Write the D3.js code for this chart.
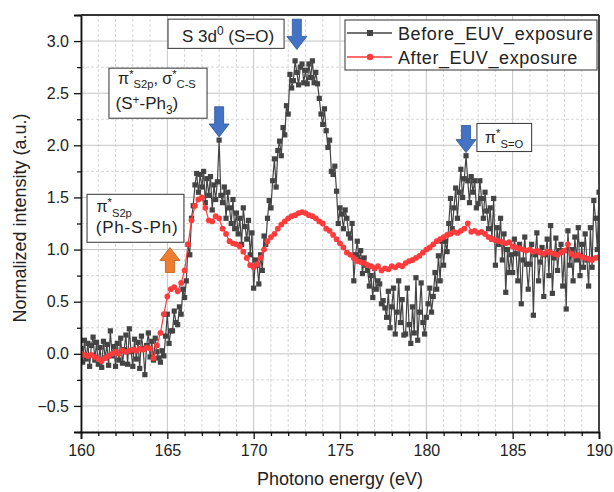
<!DOCTYPE html>
<html>
<head>
<meta charset="utf-8">
<script src="https://cdn.jsdelivr.net/npm/d3@7"></script>
<style>
  body { margin: 0; background: #fff; }
  svg text { font-family: "Liberation Sans", Arial, sans-serif; fill: #222; }
</style>
</head>
<body>
<svg id="chart" width="614" height="492"></svg>
<script>
// Before exposure, one point every 0.1 eV from 160.0 eV
const beforeStart = 160, beforeStep = 0.1;
const beforeValues = [
  0.05, -0.08, 0.13, -0.05, 0.10, -0.12, 0.08, 0.16, -0.06, 0.11,
  -0.10, 0.06, -0.13, 0.12, -0.04, 0.09, -0.11, 0.22, -0.02, 0.07,
  -0.12, 0.10, -0.06, 0.15, -0.09, 0.04, 0.18, -0.10, 0.24, 0.02,
  -0.12, 0.14, -0.05, 0.11, -0.14, 0.17, 0.05, -0.20, 0.08, 0.20,
  -0.03, 0.12, -0.06, 0.15, 0.02, -0.04, -0.08, 0.03, -0.02, 0.17,
  0.38, 0.10, 0.22, 0.22, 0.41, 0.30, 0.28, 0.45, 0.38, 0.62,
  0.54, 0.70, 1.05, 0.95, 1.30, 1.42, 1.62, 1.73, 1.55, 1.72,
  1.60, 1.75, 1.45, 1.68, 1.52, 1.70, 1.38, 1.62, 1.48, 1.65,
  2.05, 1.52, 1.45, 1.60, 1.30, 1.55, 1.40, 1.25, 1.48, 1.20,
  1.35, 1.15, 1.30, 1.05, 1.40, 1.22, 1.10, 1.28, 0.95, 1.16,
  0.63, 0.90, 0.85, 0.67, 0.95, 0.80, 1.13, 1.05, 1.30, 1.47,
  1.40, 1.66, 1.87, 1.60, 1.95, 2.04, 1.90, 2.17, 2.10, 2.38,
  2.30, 2.68, 2.55, 2.62, 2.81, 2.70, 2.58, 2.75, 2.78, 2.60,
  2.72, 2.59, 2.78, 2.65, 2.81, 2.60, 2.70, 2.59, 2.45, 2.30,
  2.20, 2.35, 2.14, 1.98, 2.05, 1.75, 1.72, 1.80, 1.56, 1.25,
  1.40, 1.34, 1.20, 1.38, 1.30, 1.15, 1.11, 1.25, 0.70, 0.95,
  1.08, 0.90, 0.99, 0.77, 0.92, 0.85, 0.80, 0.65, 0.75, 0.54,
  0.82, 0.62, 0.70, 0.67, 0.48, 0.51, 0.44, 0.35, 0.60, 0.25,
  0.45, 0.63, 0.19, 0.40, 0.70, 0.30, 0.52, 0.18, 0.19, 0.63,
  0.28, 0.10, 0.45, 0.20, 0.73, 0.13, 0.40, 0.68, 0.30, 0.19,
  0.35, 0.48, 0.63, 0.40, 0.55, 0.78, 0.62, 0.94, 0.70, 1.08,
  0.85, 1.08, 0.98, 1.25, 1.49, 1.20, 1.40, 1.59, 1.30, 1.55,
  1.77, 1.50, 1.68, 1.90, 1.66, 1.45, 1.70, 1.55, 1.66, 1.40,
  1.44, 1.66, 1.49, 1.30, 1.55, 1.37, 1.20, 1.40, 1.10, 1.49,
  0.85, 1.21, 1.05, 1.30, 0.90, 1.15, 0.59, 1.00, 0.78, 0.95,
  0.78, 1.10, 0.96, 0.70, 1.05, 0.48, 0.90, 1.12, 0.86, 0.62,
  0.86, 1.05, 0.37, 0.95, 1.16, 0.70, 0.88, 1.02, 0.55, 0.95,
  1.10, 0.75, 1.23, 0.58, 0.92, 1.11, 0.80, 0.99, 1.05, 0.65,
  0.99, 0.43, 1.18, 0.85, 1.00, 0.70, 1.12, 0.90, 1.21, 0.75,
  1.05, 0.83, 1.15, 0.90, 0.65, 1.21, 0.83, 1.47, 1.30, 1.00,
  1.55
];

// After exposure, one point every 0.2 eV from 160.0 eV
const afterStart = 160, afterStep = 0.2;
const afterValues = [
  0.00, -0.01, -0.02, -0.01, -0.03,
  -0.05, -0.07, -0.04, -0.02, 0.00,
  0.02, 0.00, 0.03, 0.02, 0.03,
  0.04, 0.03, 0.05, 0.04, 0.06,
  0.05, -0.04, 0.08, 0.20, 0.38,
  0.55, 0.62, 0.64, 0.60, 0.68,
  0.80, 1.05, 1.28, 1.42, 1.48,
  1.50, 1.40, 1.28, 1.27, 1.32,
  1.30, 1.20, 1.15, 1.08, 1.06,
  1.05, 1.03, 0.98, 0.92, 0.85,
  0.83, 0.86, 0.92, 1.00, 1.08,
  1.12, 1.15, 1.20, 1.24, 1.27,
  1.30, 1.32, 1.33, 1.35, 1.36,
  1.35, 1.33, 1.32, 1.30, 1.27,
  1.25, 1.20, 1.18, 1.14, 1.10,
  1.06, 1.02, 0.97, 0.95, 0.92,
  0.89, 0.88, 0.87, 0.85, 0.84,
  0.82, 0.84, 0.80, 0.82, 0.81,
  0.84, 0.83, 0.85, 0.84, 0.87,
  0.89, 0.90, 0.92, 0.94, 0.97,
  1.00, 1.02, 1.05, 1.08, 1.10,
  1.12, 1.14, 1.15, 1.17, 1.16,
  1.18, 1.20, 1.25, 1.17, 1.18,
  1.16, 1.17, 1.15, 1.12, 1.10,
  1.09, 1.08, 1.07, 1.06, 1.07,
  1.03, 1.02, 1.01, 1.00, 0.99,
  1.00, 0.98, 0.99, 0.97, 0.96,
  0.98, 0.97, 0.96, 0.95, 0.97,
  0.99, 1.05, 0.96, 0.94, 0.95,
  0.93, 0.92, 0.91, 0.90, 0.92,
  0.93
];

const seriesNames = ["Before_EUV_exposure", "After_EUV_exposure"];
const xMajorTicks = [160, 165, 170, 175, 180, 185, 190];
const yMajorTicks = [-0.5, 0.0, 0.5, 1.0, 1.5, 2.0, 2.5, 3.0];

const svg = d3.select("#chart");

const x = d3.scaleLinear().domain([160, 190]).range([81, 599]);
const y = d3.scaleLinear().domain([-0.75, 3.25]).range([432, 15]);

const toPoints = (start, step, vals) =>
  vals.map((v, i) => ({ e: +(start + i * step).toFixed(2), v }));

const before = toPoints(beforeStart, beforeStep, beforeValues);
const after = toPoints(afterStart, afterStep, afterValues);

const xMinor = d3.range(160, 191, 1).filter(d => d % 5 !== 0);
const yMinor = d3.range(-0.75, 3.26, 0.25).filter(d => Math.abs(d * 2 - Math.round(d * 2)) > 0.01);

// grid
const grid = svg.append("g");
grid.selectAll(".vmin").data(xMinor).join("line")
  .attr("x1", d => x(d)).attr("x2", d => x(d))
  .attr("y1", y(-0.75)).attr("y2", y(3.25))
  .attr("stroke", "#d6d6d6").attr("stroke-dasharray", "3,2");
grid.selectAll(".hmin").data(yMinor).join("line")
  .attr("x1", x(160)).attr("x2", x(190))
  .attr("y1", d => y(d)).attr("y2", d => y(d))
  .attr("stroke", "#d6d6d6").attr("stroke-dasharray", "3,2");
grid.selectAll(".vmaj").data(xMajorTicks).join("line")
  .attr("x1", d => x(d)).attr("x2", d => x(d))
  .attr("y1", y(-0.75)).attr("y2", y(3.25))
  .attr("stroke", "#c4c4c4");
grid.selectAll(".hmaj").data(yMajorTicks).join("line")
  .attr("x1", x(160)).attr("x2", x(190))
  .attr("y1", d => y(d)).attr("y2", d => y(d))
  .attr("stroke", "#c4c4c4");

// clip
svg.append("clipPath").attr("id", "clip")
  .append("rect").attr("x", 81).attr("y", 15).attr("width", 518).attr("height", 417);

const plot = svg.append("g").attr("clip-path", "url(#clip)");
const line = d3.line().x(d => x(d.e)).y(d => y(d.v));

// before series
plot.append("path").datum(before)
  .attr("fill", "none").attr("stroke", "#444").attr("stroke-width", 1.2)
  .attr("d", line);
plot.append("g").selectAll("rect").data(before).join("rect")
  .attr("x", d => x(d.e) - 2.6).attr("y", d => y(d.v) - 2.6)
  .attr("width", 5.2).attr("height", 5.2)
  .attr("fill", "#444");

// after series
plot.append("path").datum(after)
  .attr("fill", "none").attr("stroke", "#ff3b3b").attr("stroke-width", 1.2)
  .attr("d", line);
plot.append("g").selectAll("circle").data(after).join("circle")
  .attr("cx", d => x(d.e)).attr("cy", d => y(d.v)).attr("r", 2.9)
  .attr("fill", "#ff3b3b");

// axes
svg.append("g").attr("transform", "translate(0,432)")
  .call(d3.axisBottom(x).tickValues(xMajorTicks).tickFormat(d3.format("d")).tickSize(7).tickPadding(6));
svg.append("g").attr("transform", "translate(0,432)")
  .call(d3.axisBottom(x).tickValues(xMinor).tickFormat("").tickSize(4))
  .select(".domain").remove();
svg.append("g").attr("transform", "translate(81,0)")
  .call(d3.axisLeft(y).tickValues(yMajorTicks).tickFormat(d => d3.format(".1f")(d).replace("-", "\u2212")).tickSize(7).tickPadding(5));
svg.append("g").attr("transform", "translate(81,0)")
  .call(d3.axisLeft(y).tickValues(yMinor).tickFormat("").tickSize(4))
  .select(".domain").remove();

svg.selectAll(".tick line").attr("stroke", "#111").attr("stroke-width", 1.3);
svg.selectAll(".domain").attr("stroke", "#111").attr("stroke-width", 1.8);
svg.selectAll(".tick text").style("font-size", "16px").attr("fill", "#222");

// top / right frame
svg.append("line").attr("x1", 81).attr("x2", 599).attr("y1", 15).attr("y2", 15)
  .attr("stroke", "#333").attr("stroke-width", 1.8);
svg.append("line").attr("x1", 599).attr("x2", 599).attr("y1", 15).attr("y2", 432)
  .attr("stroke", "#333").attr("stroke-width", 1.8);

// axis titles
svg.append("text").attr("x", 340).attr("y", 485).attr("text-anchor", "middle")
  .style("font-size", "18px").text("Photono energy (eV)");
svg.append("text").attr("transform", "translate(26,218) rotate(-90)").attr("text-anchor", "middle")
  .style("font-size", "18px").text("Normalized intensity (a.u.)");

// legend
const legend = svg.append("g");
legend.append("rect").attr("x", 345).attr("y", 20).attr("width", 252).attr("height", 50)
  .attr("fill", "#fff").attr("stroke", "#333").attr("stroke-width", 1);
const legRows = [
  { name: seriesNames[0], color: "#444", shape: "square", cy: 33 },
  { name: seriesNames[1], color: "#ff3b3b", shape: "circle", cy: 57 }
];
legRows.forEach(r => {
  legend.append("line").attr("x1", 347).attr("x2", 392).attr("y1", r.cy).attr("y2", r.cy)
    .attr("stroke", r.color).attr("stroke-width", 1.4);
  if (r.shape === "square")
    legend.append("rect").attr("x", 367).attr("y", r.cy - 3).attr("width", 6).attr("height", 6).attr("fill", r.color);
  else
    legend.append("circle").attr("cx", 370).attr("cy", r.cy).attr("r", 3.2).attr("fill", r.color);
  legend.append("text").attr("x", 398).attr("y", r.cy + 6.5)
    .style("font-size", "18px").style("letter-spacing", "0.6px").text(r.name);
});

// rich text helper: parts are [text, "sup"|"sub"|"", raise] entries
function richText(g, px, py, size, parts) {
  const t = g.append("text").attr("x", px).attr("y", py).style("font-size", size + "px");
  let cur = 0;
  parts.forEach(([str, kind, k]) => {
    const target = kind === "sup" ? -size * (k || 0.4) : kind === "sub" ? size * (k || 0.28) : 0;
    t.append("tspan").attr("dy", target - cur)
      .style("font-size", (kind ? size * 0.7 : size) + "px").text(str);
    cur = target;
  });
  return t;
}

function box(e0, v0, e1, v1) {
  return svg.append("rect").attr("x", x(e0)).attr("y", y(v0))
    .attr("width", x(e1) - x(e0)).attr("height", y(v1) - y(v0))
    .attr("fill", "#fff").attr("stroke", "#333").attr("stroke-width", 1);
}

// block arrow from (e, vTail) to (e, vTip)
function arrow(e, vTail, vTip, color, stroke) {
  const cx = x(e), y0 = y(vTail), y1 = y(vTip);
  const dir = y1 > y0 ? 1 : -1;
  const head = 13, sw = 4.5, hw = 10;
  const yh = y1 - dir * head;
  const pts = [[cx - sw, y0], [cx + sw, y0], [cx + sw, yh], [cx + hw, yh], [cx, y1], [cx - hw, yh], [cx - sw, yh]];
  svg.append("polygon").attr("points", pts.map(p => p.join(",")).join(" "))
    .attr("fill", color).attr("stroke", stroke).attr("stroke-width", 0.8);
}

// annotation 1: S 3d0
box(165.04, 3.21, 171.76, 2.93);
richText(svg, x(165.85), y(2.99), 17, [["S 3d", ""], ["0", "sup"], [" (S=O)", ""]]);
arrow(172.5, 3.21, 2.92, "#4472c4", "#2f5597");

// annotation 2
box(161.62, 2.74, 167.3, 2.26);
richText(svg, x(162.15), y(2.585), 16, [["\u03c0", ""], ["*", "sup"], ["S2p", "sub", 0.25], [", \u03c3", ""], ["*", "sup"], ["C-S", "sub", 0.25]]);
richText(svg, x(162.0), y(2.35), 17, [["(S", ""], ["+", "sup", 0.28], ["-Ph", ""], ["3", "sub"], [")", ""]]);
arrow(168.0, 2.37, 2.08, "#4472c4", "#2f5597");

// annotation 3
box(160.35, 1.53, 165.96, 1.07);
richText(svg, x(160.9), y(1.36), 16, [["\u03c0", ""], ["*", "sup"], ["S2p", "sub"]]);
richText(svg, x(160.85), y(1.16), 17, [["(Ph-S-Ph)", ""]]).style("letter-spacing", "0.8px");
arrow(165.15, 0.78, 1.02, "#ed7d31", "#c55a11");

// annotation 4
box(182.93, 2.21, 186.1, 1.94);
richText(svg, x(183.4), y(2.02), 16, [["\u03c0", ""], ["*", "sup"], ["S=O", "sub"]]);
arrow(182.3, 2.19, 1.93, "#4472c4", "#2f5597");
</script>
</body>
</html>
